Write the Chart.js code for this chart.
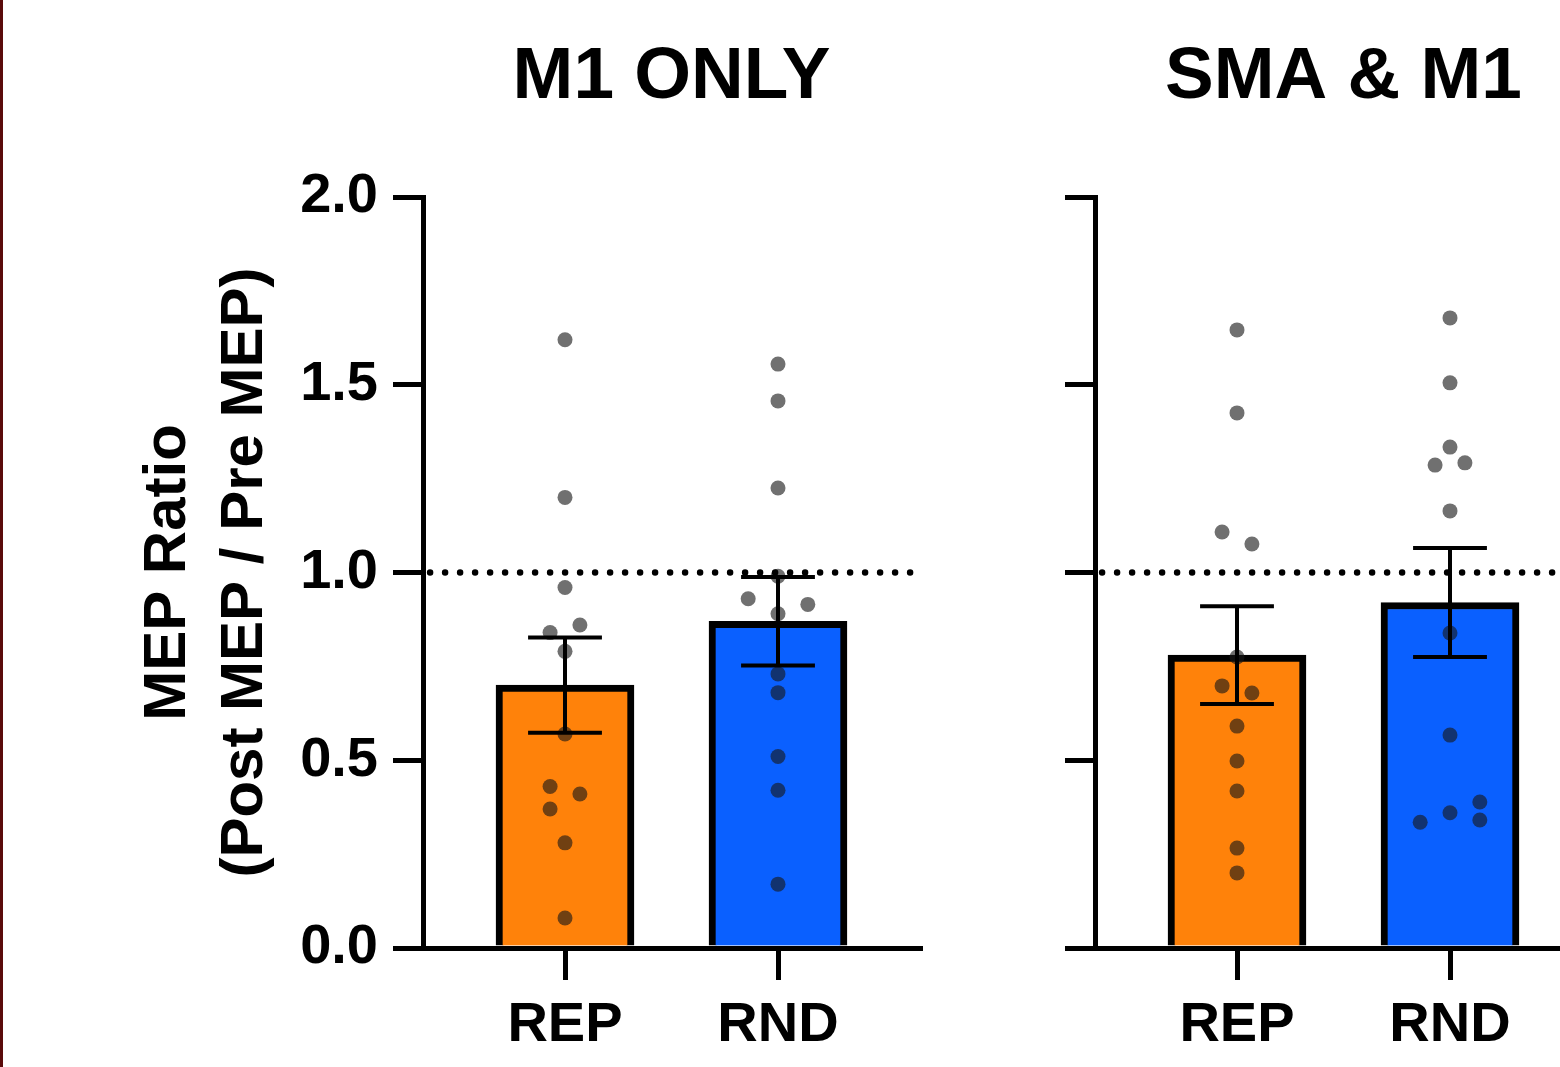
<!DOCTYPE html>
<html>
<head>
<meta charset="utf-8">
<script src="https://cdn.jsdelivr.net/npm/chart.js@4.4.1/dist/chart.umd.min.js"></script>
<style>
  html, body { margin: 0; padding: 0; background: #fff; overflow: hidden; }
  body { width: 1560px; height: 1067px; position: relative; }
  #edge { position: absolute; left: 0; top: 0; width: 3px; height: 1067px; background: #5a0a0a; }
  canvas { position: absolute; top: 0; }
  #m1 { left: 0; }
  #sma { left: 672px; }
</style>
</head>
<body>
<div id="edge"></div>
<canvas id="m1" width="960" height="1067"></canvas>
<canvas id="sma" width="960" height="1067"></canvas>
<script>
// groups on the x axis and their positions
const groups = ['REP', 'RND'];
const groupX = [1, 2.5];
const yTicks = [0, 0.5, 1.0, 1.5, 2.0];
const refLine = 1.0;

// M1 ONLY
const m1Mean = [0.70, 0.87];
const m1Sem = [0.127, 0.118];
const m1RepY = [1.62, 1.20, 0.96, 0.86, 0.84, 0.79, 0.57, 0.43, 0.41, 0.37, 0.28, 0.08];
const m1RepX = [1, 1, 1, 1.105, 0.895, 1, 1, 0.895, 1.105, 0.895, 1, 1];
const m1RndY = [1.555, 1.457, 1.225, 0.99, 0.93, 0.915, 0.89, 0.73, 0.68, 0.51, 0.42, 0.17];
const m1RndX = [2.5, 2.5, 2.5, 2.5, 2.29, 2.71, 2.5, 2.5, 2.5, 2.5, 2.5, 2.5];

// SMA & M1
const smaMean = [0.78, 0.92];
const smaSem = [0.13, 0.145];
const smaRepY = [1.646, 1.425, 1.108, 1.076, 0.775, 0.698, 0.679, 0.591, 0.498, 0.418, 0.266, 0.20];
const smaRepX = [1, 1, 0.895, 1.105, 1, 0.895, 1.105, 1, 1, 1, 1, 1];
const smaRndY = [1.678, 1.505, 1.334, 1.286, 1.292, 1.164, 0.839, 0.567, 0.389, 0.36, 0.341, 0.335];
const smaRndX = [2.5, 2.5, 2.5, 2.395, 2.605, 2.5, 2.5, 2.5, 2.71, 2.5, 2.71, 2.29];

const family = "'Liberation Sans', Arial, Helvetica, sans-serif";
const barColors = ['#FF820A', '#0A60FF'];
const dotColor = 'rgba(25,25,25,0.62)';

// mean +/- SEM whiskers
function errorBars(means, sems) {
  return {
    id: 'errorBars',
    afterDatasetsDraw(chart) {
      const ctx = chart.ctx;
      const x = chart.scales.x, y = chart.scales.y;
      const half = x.getPixelForValue(0.26) - x.getPixelForValue(0);
      ctx.save();
      ctx.strokeStyle = '#000';
      ctx.lineWidth = 4;
      means.forEach((m, i) => {
        const px = x.getPixelForValue(groupX[i]);
        const top = y.getPixelForValue(m + sems[i]);
        const bot = y.getPixelForValue(m - sems[i]);
        ctx.beginPath();
        ctx.moveTo(px, top); ctx.lineTo(px, bot);
        ctx.moveTo(px - half, top); ctx.lineTo(px + half, top);
        ctx.moveTo(px - half, bot); ctx.lineTo(px + half, bot);
        ctx.stroke();
      });
      ctx.restore();
    }
  };
}

function makeChart(id, title, means, sems, repX, repY, rndX, rndY, showLabels) {
  const dots = repX.map((x, i) => ({x: x, y: repY[i]}))
    .concat(rndX.map((x, i) => ({x: x, y: rndY[i]})));
  return new Chart(document.getElementById(id), {
    type: 'bar',
    data: {
      datasets: [
        {
          type: 'bar',
          data: groupX.map((x, i) => ({x: x, y: means[i]})),
          backgroundColor: barColors,
          borderColor: '#000',
          borderWidth: 7,
          barThickness: 138,
          order: 3
        },
        {
          type: 'scatter',
          data: dots,
          pointRadius: 7.5,
          pointBackgroundColor: dotColor,
          pointBorderWidth: 0,
          order: 2
        },
        {
          type: 'line',
          data: [{x: 0.05, y: refLine}, {x: 3.5, y: refLine}],
          borderColor: '#000',
          borderWidth: 6.5,
          borderDash: [0, 15],
          borderCapStyle: 'round',
          pointRadius: 0,
          order: 1
        }
      ]
    },
    options: {
      responsive: false,
      animation: false,
      layout: { padding: { left: 0, right: 40, top: 0, bottom: 0 } },
      plugins: {
        legend: { display: false },
        tooltip: { enabled: false },
        title: {
          display: true,
          text: title,
          fullSize: false,
          color: '#000',
          font: { family: family, size: 73, weight: 'bold', lineHeight: 1.2 },
          padding: { top: 34, bottom: 75.4 }
        }
      },
      scales: {
        x: {
          type: 'linear',
          min: 0, max: 3.5,
          offset: false,
          afterBuildTicks: s => { s.ticks = groupX.map(v => ({value: v})); },
          afterFit: s => { s.height = 119; },
          grid: { offset: false, drawOnChartArea: false, drawTicks: true, tickLength: 32, lineWidth: 5, tickWidth: 5, tickColor: '#000', color: '#000' },
          border: { display: true, width: 5, color: '#000' },
          ticks: {
            color: '#000',
            font: { family: family, size: 56, weight: 'bold' },
            padding: 12,
            maxRotation: 0,
            autoSkip: false,
            callback: (v, i) => groups[i]
          }
        },
        y: {
          min: 0, max: 2,
          afterBuildTicks: s => { s.ticks = yTicks.map(v => ({value: v})); },
          afterFit: s => { s.width = 423; },
          grid: { drawOnChartArea: false, drawTicks: true, tickLength: 30, lineWidth: 5, tickWidth: 5, tickColor: '#000', color: '#000' },
          border: { display: true, width: 5, color: '#000' },
          ticks: {
            color: '#000',
            font: { family: family, size: 56, weight: 'bold' },
            padding: 15,
            callback: v => showLabels ? Number(v).toFixed(1) : ''
          },
          title: {
            display: showLabels,
            text: ['MEP Ratio', '(Post MEP / Pre MEP)'],
            color: '#000',
            font: { family: family, size: 60, weight: 'bold', lineHeight: 1.283 },
            padding: { top: 129.5, bottom: 0 }
          }
        }
      }
    },
    plugins: [errorBars(means, sems)]
  });
}

makeChart('m1', 'M1 ONLY', m1Mean, m1Sem, m1RepX, m1RepY, m1RndX, m1RndY, true);
makeChart('sma', 'SMA & M1', smaMean, smaSem, smaRepX, smaRepY, smaRndX, smaRndY, false);
</script>
</body>
</html>
